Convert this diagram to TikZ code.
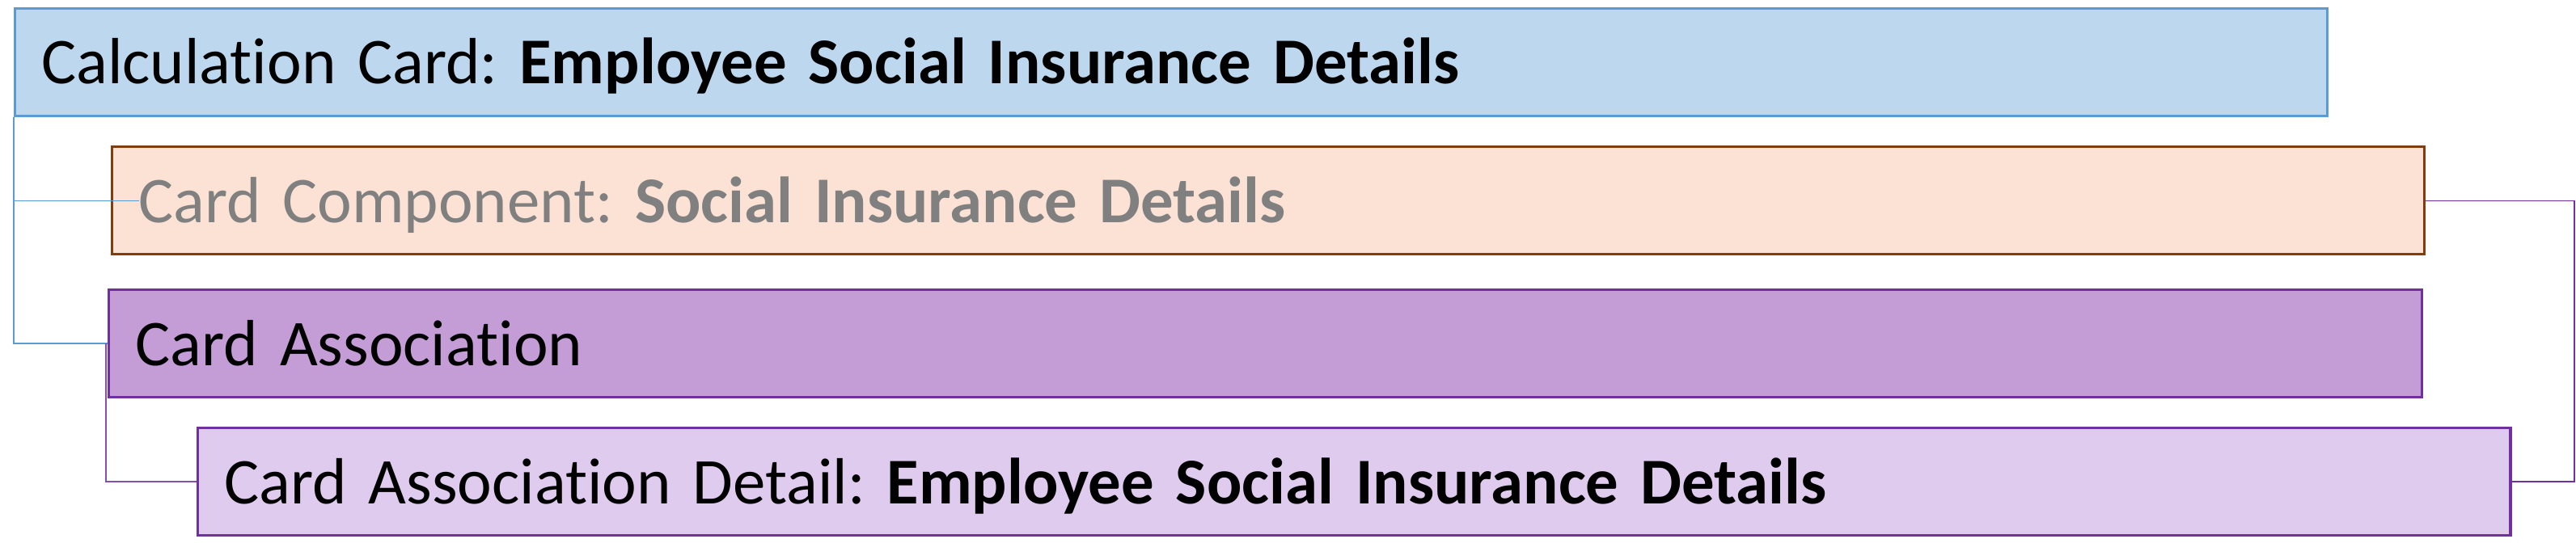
\documentclass[tikz,border=0pt]{standalone}
\usepackage{fontspec}
\setmainfont[Ligatures=NoCommon]{Carlito}

\definecolor{calcfill}{HTML}{BDD7EE}
\definecolor{calcdraw}{HTML}{5B9BD5}
\definecolor{compfill}{HTML}{FBE2D5}
\definecolor{compdraw}{HTML}{843C0C}
\definecolor{assocfill}{HTML}{C49DD7}
\definecolor{assocdraw}{HTML}{7030A0}
\definecolor{detfill}{HTML}{DFCBEE}
\definecolor{compgray}{HTML}{808080}

\tikzset{
  cardbox/.style={draw, line width=1.8pt, anchor=north west, minimum height=2.66cm,
    inner xsep=0.66cm, inner ysep=0pt, align=left, text width=55.87cm,
    text height=1.08cm, text depth=0pt, font=\fontsize{46}{55}\selectfont\frenchspacing},
  link/.style={line width=0.9pt}
}

\begin{document}
\begin{tikzpicture}
  \useasboundingbox (0cm,0cm) rectangle (63.7cm,-13.86cm);
  \node[cardbox, fill=calcfill, draw=calcdraw] (calc) at (0.336cm,-0.176cm)
    {Calculation Card: \textbf{Employee Social Insurance Details}};
  \node[cardbox, fill=compfill, draw=compdraw, text=compgray] (comp) at (2.734cm,-3.606cm)
    {Card Component: \textbf{Social Insurance Details}};
  \node[cardbox, fill=assocfill, draw=assocdraw] (assoc) at (2.664cm,-7.14cm)
    {Card Association};
  \node[cardbox, fill=detfill, draw=assocdraw] (det) at (4.858cm,-10.56cm)
    {Card Association Detail: \textbf{Employee Social Insurance Details}};
  \coordinate (rail) at (63.66cm,0cm);
  % left side
  \draw[link, calcdraw] (calc.south west) |- (assoc.west);
  \draw[link, calcdraw] (calc.south west |- comp.west) -- ([xshift=0.7cm]comp.west);
  \draw[link, assocdraw!85] ([xshift=-0.04cm]assoc.west) |- (det.west);
  % right side
  \draw[link, assocdraw] (comp.east) -- (comp.east -| rail) |- (det.east);
\end{tikzpicture}
\end{document}
